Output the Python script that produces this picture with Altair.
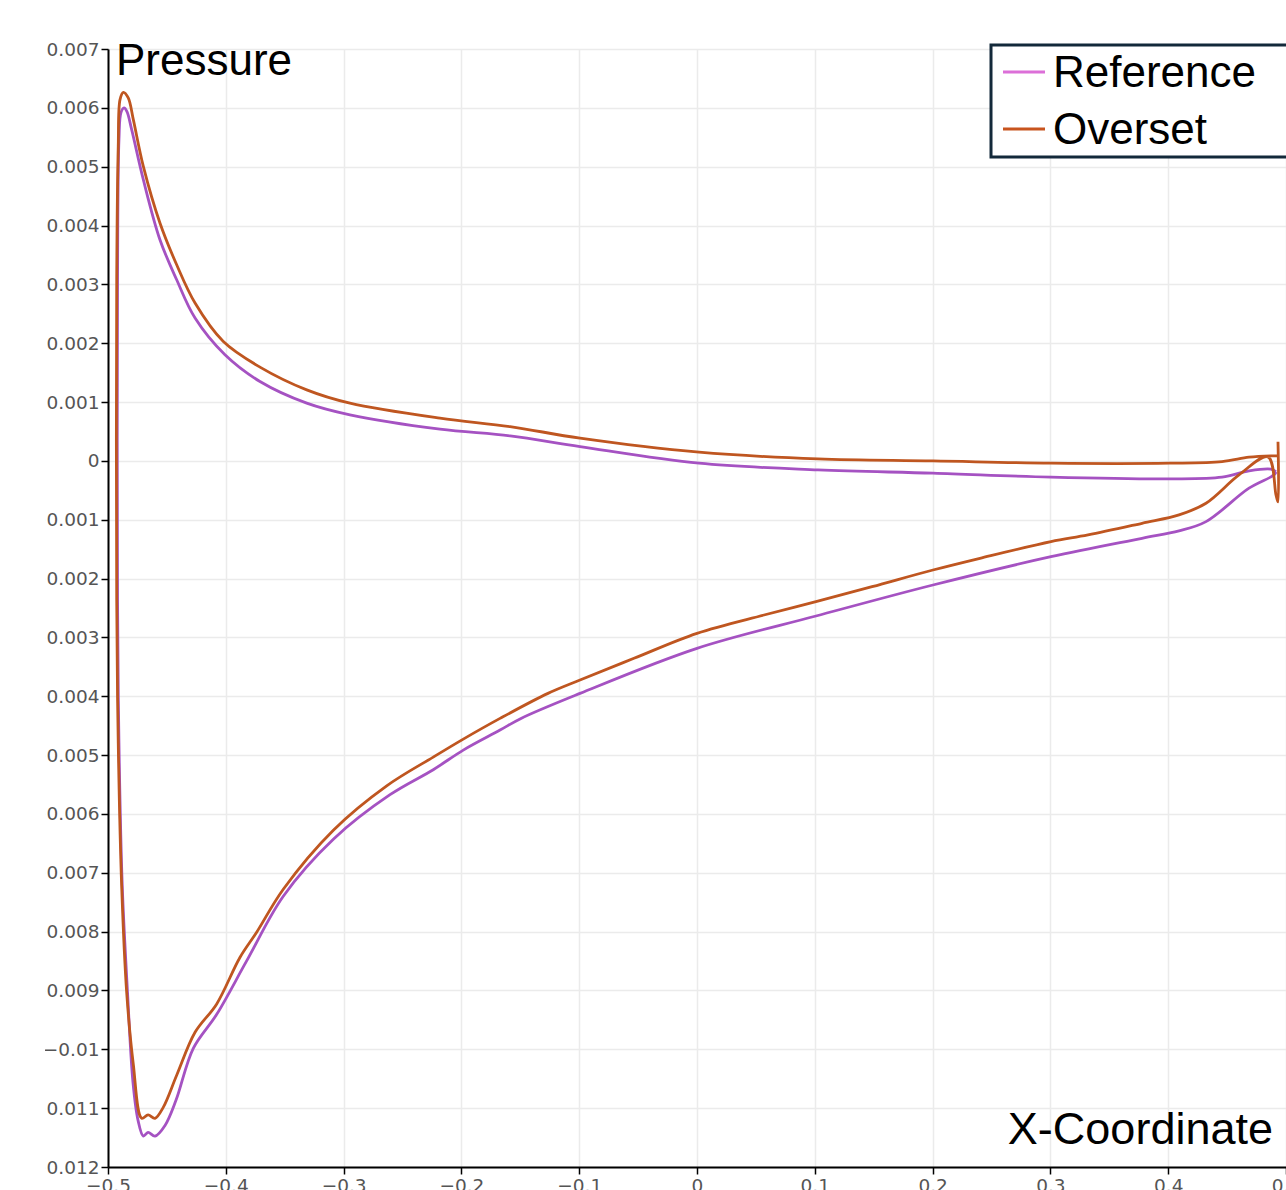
import altair as alt
import pandas as pd

# ---- data ----
ref_x = [0.4915, 0.4873, 0.4686, 0.4457, 0.4015, 0.3005, 0.2003, 0.1027, 0.0017,
         -0.0993, -0.1587, -0.2182, -0.2946, -0.3313, -0.371, -0.4007, -0.4261,
         -0.4417, -0.4559, -0.470, -0.4799, -0.4839, -0.4864, -0.489, -0.4907,
         -0.4919, -0.4919, -0.4907, -0.4879, -0.4834, -0.4788, -0.4745, -0.470,
         -0.466, -0.4601, -0.4516, -0.4423, -0.4276, -0.4077, -0.3823, -0.3512,
         -0.3087, -0.2606, -0.2239, -0.1984, -0.1672, -0.1494, -0.0993, 0.0,
         0.101, 0.2003, 0.3005, 0.3778, 0.4092, 0.4321, 0.4686, 0.4898, 0.4915]
ref_p = [-0.000187, -0.000141, -0.000170, -0.000277, -0.000306, -0.000277, -0.000209,
         -0.000153, -0.000039, 0.000243, 0.000425, 0.000539, 0.000782, 0.000981,
         0.001349, 0.001803, 0.002427, 0.003078, 0.003759, 0.004779, 0.005629,
         0.005935, 0.005998, 0.005918, 0.005459, 0.003078, -0.002364, -0.004796,
         -0.007223, -0.009046, -0.010561, -0.011207, -0.011474, -0.011412, -0.011474,
         -0.011293, -0.010867, -0.009983, -0.009405, -0.008498, -0.007398, -0.006429,
         -0.005673, -0.005248, -0.004915, -0.004575, -0.004376, -0.003951, -0.003185,
         -0.002636, -0.002109, -0.001628, -0.001315, -0.001190, -0.001032, -0.000464,
         -0.000238, -0.000187]

ovs_x = [0.4932, 0.4873, 0.4686, 0.4457, 0.4015, 0.3005, 0.2003, 0.1027, 0.0017,
         -0.0993, -0.1587, -0.2182, -0.2946, -0.3313, -0.371, -0.4021, -0.4261,
         -0.4417, -0.4559, -0.470, -0.4785, -0.4828, -0.487, -0.4898, -0.4913,
         -0.4926, -0.4926, -0.4913, -0.4884, -0.4841, -0.4785, -0.4714, -0.466,
         -0.4601, -0.4531, -0.4417, -0.4261, -0.4077, -0.3879, -0.3738, -0.3512,
         -0.3087, -0.2634, -0.2239, -0.1984, -0.1672, -0.1265, -0.0993, -0.0535,
         0.0, 0.0569, 0.101, 0.1486, 0.2003, 0.2402, 0.3005, 0.3319, 0.3778,
         0.4092, 0.4321, 0.4601, 0.4847, 0.4915, 0.4932, 0.4932]
ovs_p = [0.000085, 0.000085, 0.000063, -0.000012, -0.000039, -0.000039, 0.0,
         0.000034, 0.000148, 0.000386, 0.000583, 0.000726, 0.000981, 0.001207,
         0.001594, 0.002029, 0.002682, 0.003333, 0.004043, 0.005005, 0.005799,
         0.006168, 0.006264, 0.006139, 0.005345, 0.003078, -0.002364, -0.004796,
         -0.007223, -0.009046, -0.010255, -0.011172, -0.011114, -0.011172, -0.010986,
         -0.010442, -0.009711, -0.009228, -0.008435, -0.008010, -0.007279, -0.006276,
         -0.005522, -0.005034, -0.004728, -0.004376, -0.003951, -0.003724, -0.003355,
         -0.002930, -0.002619, -0.002393, -0.002138, -0.001854, -0.001655, -0.001372,
         -0.001259, -0.001060, -0.000918, -0.000719, -0.000238, 0.000068, -0.000578,
         -0.000697, 0.000324]

x_ticks = [-0.5, -0.4, -0.3, -0.2, -0.1, 0.0, 0.1, 0.2, 0.3, 0.4, 0.5]
y_ticks = [-0.012, -0.011, -0.010, -0.009, -0.008, -0.007, -0.006, -0.005, -0.004,
           -0.003, -0.002, -0.001, 0.0, 0.001, 0.002, 0.003, 0.004, 0.005, 0.006, 0.007]
series_names = ["Reference", "Overset"]
line_colors = ["#a552c2", "#bf5620"]
legend_colors = ["#dc6fd8", "#c8541e"]
y_title = "Pressure"
x_title = "X-Coordinate"

W, H = 1178, 1118

ref = pd.DataFrame({"x": ref_x, "p": ref_p, "i": list(range(len(ref_x)))})
ovs = pd.DataFrame({"x": ovs_x, "p": ovs_p, "i": list(range(len(ovs_x)))})

xenc = alt.X("x:Q", scale=alt.Scale(domain=[-0.5, 0.5], nice=False, zero=False),
             axis=alt.Axis(values=x_ticks, format=".1~f", title=None, labelFlush=False,
                           labelOverlap=False))
yenc = alt.Y("p:Q", scale=alt.Scale(domain=[-0.012, 0.007], nice=False, zero=False),
             axis=alt.Axis(values=y_ticks, format=".3~f", title=None, labelFlush=False,
                           labelOverlap=False))

ref_line = alt.Chart(ref).mark_line(color=line_colors[0], strokeWidth=2.8,
                                    interpolate="catmull-rom").encode(
    x=xenc, y=yenc, order="i:Q")
ovs_line = alt.Chart(ovs).mark_line(color=line_colors[1], strokeWidth=2.8,
                                    interpolate="catmull-rom").encode(
    x=xenc, y=yenc, order="i:Q")

one = pd.DataFrame({"a": [0]})

# white margin strip (the reference is cropped at the left)
cover = alt.Chart(one).mark_rect(fill="white").encode(
    x=alt.value(-108), x2=alt.value(-63), y=alt.value(-49), y2=alt.value(H + 23))

ytitle = alt.Chart(pd.DataFrame({"t": [y_title]})).mark_text(
    align="left", baseline="alphabetic", fontSize=44, font="Liberation Sans", color="black"
).encode(x=alt.value(8), y=alt.value(26), text="t:N")

xtitle = alt.Chart(pd.DataFrame({"t": [x_title]})).mark_text(
    align="right", baseline="alphabetic", fontSize=45, font="Liberation Sans", color="black"
).encode(x=alt.value(1165), y=alt.value(1095), text="t:N")

legend_box = alt.Chart(one).mark_rect(fill="white", stroke="#13293a", strokeWidth=3).encode(
    x=alt.value(883), x2=alt.value(1200), y=alt.value(-4), y2=alt.value(108))

leg_layers = []
for k, (name, col) in enumerate(zip(series_names, legend_colors)):
    yy = 23 + k * 57
    leg_layers.append(alt.Chart(one).mark_rule(color=col, strokeWidth=3).encode(
        x=alt.value(895), x2=alt.value(937), y=alt.value(yy)))
    leg_layers.append(alt.Chart(pd.DataFrame({"t": [name]})).mark_text(
        align="left", baseline="alphabetic", fontSize=44, font="Liberation Sans", color="black"
    ).encode(x=alt.value(945), y=alt.value(yy + 15), text="t:N"))

chart = alt.layer(
    ref_line, ovs_line, cover, ytitle, xtitle, legend_box, *leg_layers
).properties(
    width=W, height=H,
    padding={"left": 108, "top": 49, "right": 0, "bottom": 23},
    autosize=alt.AutoSizeParams(type="none"),
).configure_view(stroke=None).configure_axis(
    grid=True, gridColor="#ebebeb", gridWidth=1.5,
    domainColor="black", domainWidth=2,
    tickColor="black", tickWidth=1.5, tickSize=7,
    labelFont="DejaVu Sans", labelFontSize=18.5, labelColor="#555555", labelPadding=2,
)

chart.save("out.html", embed_options={"renderer": "svg", "actions": False})
